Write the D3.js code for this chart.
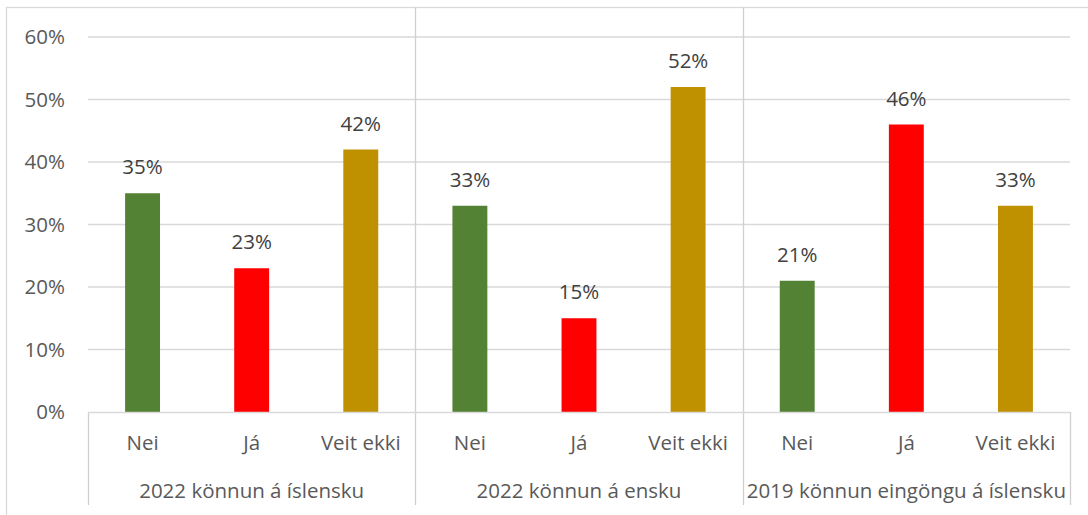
<!DOCTYPE html>
<html>
<head>
<meta charset="utf-8">
<script src="https://cdn.jsdelivr.net/npm/d3@7"></script>
<style>
  body { margin: 0; background: #fff; }
  text { font-family: "Open Sans", "Noto Sans", sans-serif; }
</style>
</head>
<body>
<div id="chart-area"></div>
<script>
// data
var groups = ["2022 könnun á íslensku", "2022 könnun á ensku", "2019 könnun eingöngu á íslensku"];
var answers = ["Nei", "Já", "Veit ekki"];
var nei = [0.35, 0.33, 0.21];
var ja = [0.23, 0.15, 0.46];
var veitEkki = [0.42, 0.52, 0.33];
var yTicks = [0, 0.1, 0.2, 0.3, 0.4, 0.5, 0.6];

var colors = { "Nei": "#548235", "Já": "#FF0000", "Veit ekki": "#BF9000" };
var seriesValues = { "Nei": nei, "Já": ja, "Veit ekki": veitEkki };

var W = 1088, H = 515;
var margin = { left: 88, right: 18, top: 37, bottom: 103 };
var width = W - margin.left - margin.right,
  height = H - margin.top - margin.bottom;
var fs = "20.5px";

var svg = d3.select("#chart-area")
  .append("svg")
  .attr("width", W)
  .attr("height", H);

// chart border (cut off on right and bottom)
svg.append("rect")
  .attr("x", 6.5).attr("y", 7.5)
  .attr("width", W + 20).attr("height", H + 20)
  .attr("fill", "none")
  .attr("stroke", "#d9d9d9")
  .attr("stroke-width", 1.3);

var g = svg.append("g")
  .attr("transform", "translate(" + margin.left + "," + margin.top + ")");

var x0 = d3.scaleBand().domain(groups).range([0, width]);
var x1 = d3.scaleBand().domain(answers).range([0, x0.bandwidth()])
  .paddingInner(0.68).paddingOuter(0.34);
var y = d3.scaleLinear().domain([0, 0.6]).range([height, 0]);

// gridlines
g.selectAll(".grid")
  .data(yTicks.slice(1))
  .enter().append("line")
  .attr("x1", 0).attr("x2", width)
  .attr("y1", function(d) { return y(d); })
  .attr("y2", function(d) { return y(d); })
  .attr("stroke", "#d9d9d9")
  .attr("stroke-width", 1.3);

// y axis labels
g.selectAll(".ylab")
  .data(yTicks)
  .enter().append("text")
  .attr("x", -23)
  .attr("y", function(d) { return y(d); })
  .attr("dy", "0.35em")
  .attr("text-anchor", "end")
  .attr("font-size", fs)
  .attr("fill", "#595959")
  .text(d3.format(".0%"));

// group separators / category axis box lines
var seps = d3.range(groups.length + 1).map(function(i) {
  return i < groups.length ? x0(groups[i]) : width;
});
g.selectAll(".sep")
  .data(seps)
  .enter().append("line")
  .attr("x1", function(d) { return Math.round(d) + 0.5; })
  .attr("x2", function(d) { return Math.round(d) + 0.5; })
  .attr("y1", function(d, i) { return (i === 0 || i === groups.length) ? height : 7 - margin.top; })
  .attr("y2", height + 93)
  .attr("stroke", "#d0d0d0")
  .attr("stroke-width", 1.3);

// bars
var barData = [];
groups.forEach(function(gr, gi) {
  answers.forEach(function(a) {
    barData.push({ group: gr, answer: a, value: seriesValues[a][gi] });
  });
});

g.selectAll("rect.bar")
  .data(barData)
  .enter().append("rect")
  .attr("class", "bar")
  .attr("x", function(d) { return x0(d.group) + x1(d.answer); })
  .attr("y", function(d) { return y(d.value); })
  .attr("width", x1.bandwidth())
  .attr("height", function(d) { return height - y(d.value); })
  .attr("fill", function(d) { return colors[d.answer]; });

// data labels
g.selectAll(".dlab")
  .data(barData)
  .enter().append("text")
  .attr("x", function(d) { return x0(d.group) + x1(d.answer) + x1.bandwidth() / 2; })
  .attr("y", function(d) { return y(d.value) - 19; })
  .attr("text-anchor", "middle")
  .attr("font-size", fs)
  .attr("fill", "#404040")
  .text(function(d) { return d3.format(".0%")(d.value); });

// x axis baseline
g.append("line")
  .attr("x1", 0).attr("x2", width)
  .attr("y1", height + 0.5).attr("y2", height + 0.5)
  .attr("stroke", "#d9d9d9")
  .attr("stroke-width", 1.3);

// category labels
g.selectAll(".clab")
  .data(barData)
  .enter().append("text")
  .attr("x", function(d) { return x0(d.group) + x1(d.answer) + x1.bandwidth() / 2; })
  .attr("y", height + 31)
  .attr("dy", "0.35em")
  .attr("text-anchor", "middle")
  .attr("font-size", fs)
  .attr("fill", "#595959")
  .text(function(d) { return d.answer; });

// group labels
g.selectAll(".glab")
  .data(groups)
  .enter().append("text")
  .attr("x", function(d) { return x0(d) + x0.bandwidth() / 2; })
  .attr("y", height + 79)
  .attr("dy", "0.35em")
  .attr("text-anchor", "middle")
  .attr("font-size", fs)
  .attr("fill", "#595959")
  .text(function(d) { return d; });
</script>
</body>
</html>
